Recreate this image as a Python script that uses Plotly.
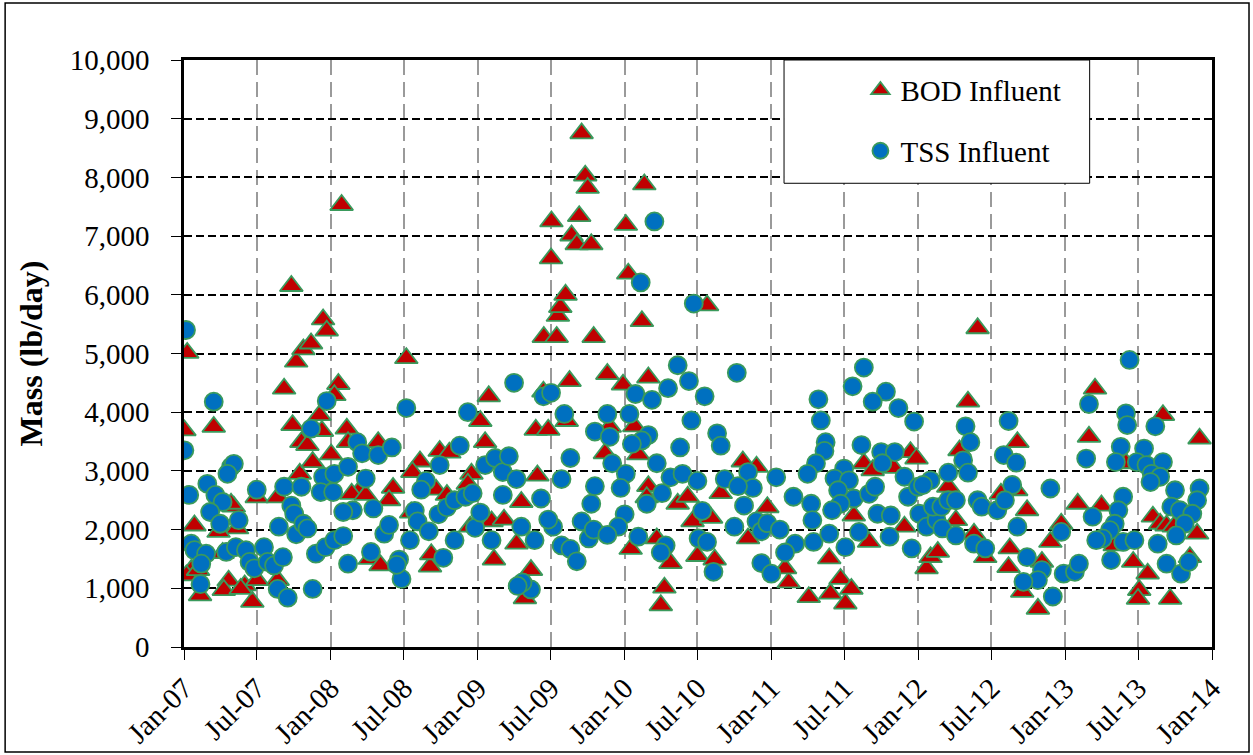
import plotly.graph_objects as go

# ---------------- data ----------------
tss_dates = [
    "2007-01-06","2007-01-02","2007-03-16","2007-01-14","2007-01-19","2007-01-27","2007-02-25","2007-02-13",
    "2007-02-11","2007-02-28","2007-03-20","2007-04-07","2007-03-07","2007-04-01","2007-05-17","2007-04-28",
    "2007-05-05","2007-04-19","2007-04-16","2007-05-10","2007-06-04","2007-06-13","2007-06-25","2007-07-01",
    "2007-07-19","2007-07-28","2007-08-13","2007-09-04","2007-08-22","2007-09-16","2007-08-25","2007-09-07",
    "2007-09-25","2007-10-02","2007-10-07","2007-10-25","2007-11-04","2007-10-20","2007-11-13","2007-12-22",
    "2007-12-13","2008-01-10","2007-12-07","2008-01-07","2008-02-13","2008-03-07","2008-03-19","2008-04-28",
    "2008-03-28","2008-04-16","2008-02-25","2008-02-01","2007-11-25","2007-12-19","2008-01-10","2008-02-01",
    "2008-02-13","2007-11-17","2008-05-13","2008-04-10",
    "2008-06-01","2008-07-07","2008-12-07","2008-11-17","2009-04-01","2009-06-13","2009-07-02","2009-08-04",
    "2009-08-19","2009-07-28","2008-05-25","2008-08-25","2008-09-28","2008-08-13","2008-07-28","2008-08-04",
    "2008-07-16","2008-06-19","2008-06-25","2008-06-13","2008-09-01","2008-10-07","2008-09-25","2008-10-16",
    "2008-11-04","2008-12-01","2008-12-19","2008-11-04","2008-12-25","2009-01-07","2009-02-04","2009-01-19",
    "2009-02-13","2009-03-04","2009-03-19","2009-04-07","2009-03-04","2009-04-19","2009-05-22","2009-06-07",
    "2009-07-07","2009-06-25","2009-05-13","2009-04-22","2009-04-10","2009-07-28","2009-08-19","2009-09-04",
    "2009-09-16","2009-10-04","2009-10-10","2009-10-19","2009-10-19","2009-10-16",
    "2010-03-16","2010-02-10","2010-06-22","2010-05-13","2010-10-07","2010-06-10","2010-04-19","2010-07-19",
    "2010-01-28","2010-03-10","2010-06-16","2009-11-19","2010-01-13","2010-08-19","2010-08-28","2010-03-01",
    "2010-02-13","2010-01-19","2009-11-25","2010-05-19","2009-12-01","2010-03-22","2010-01-04","2009-12-22",
    "2010-04-04","2010-02-25","2010-04-25","2010-05-25","2010-07-01","2010-01-01","2009-12-16","2009-11-19",
    "2010-02-04","2010-04-13","2010-04-01","2010-07-13","2010-07-04","2010-07-25","2010-08-10","2010-09-07",
    "2010-11-04","2010-11-16","2010-10-10","2010-10-25","2010-10-01","2010-11-25","2010-12-07","2010-12-22",
    "2011-01-22","2010-12-07","2011-01-01","2011-01-13","2011-02-25","2011-03-01","2011-02-04",
    "2011-08-19","2011-07-22","2011-10-13","2011-09-10","2011-11-13","2011-04-28","2011-05-04","2011-12-22",
    "2011-05-16","2011-05-13","2011-04-22","2011-04-01","2011-08-13","2011-10-01","2011-11-04","2011-10-04",
    "2011-07-01","2011-06-07","2011-07-13","2011-06-16","2011-07-25","2011-06-22","2011-06-01","2011-09-01",
    "2011-09-16","2011-11-28","2011-12-07","2012-01-01","2012-02-01","2012-01-13","2011-09-22","2011-10-25",
    "2011-04-10","2011-04-13","2011-04-16","2011-05-25","2011-07-04","2011-08-07","2011-10-22","2011-12-16",
    "2012-01-04","2012-01-22","2012-02-16","2012-02-07","2012-03-01","2012-03-16","2012-04-22","2012-05-04",
    "2012-04-28","2012-05-10","2012-02-28","2012-03-16","2012-04-04","2012-04-04","2012-05-19","2012-06-16",
    "2012-05-28","2012-06-07","2012-07-16",
    "2013-06-10","2013-03-01","2013-06-01","2013-06-04","2013-08-13","2012-08-13","2012-08-01","2012-09-01",
    "2013-02-22","2013-05-19","2013-05-07","2013-07-16","2013-06-28","2013-07-22","2013-09-01","2013-08-04",
    "2013-08-25","2013-08-01","2013-10-01","2012-11-25","2012-08-22","2012-08-04","2013-05-25","2013-05-13",
    "2013-05-04","2013-12-01","2013-11-25","2013-09-22","2013-10-13","2013-11-13","2013-10-25","2013-03-10",
    "2013-04-22","2013-04-04","2013-03-19","2013-05-25","2013-06-22","2013-08-19","2013-10-04","2012-12-22",
    "2012-09-04","2013-04-25","2013-09-10","2013-10-16","2013-11-04","2012-09-28","2012-11-04","2012-10-25",
    "2012-09-19","2012-12-01","2012-12-28","2013-01-25","2013-02-04",
]
tss_values = [
    5400,3350,4180,2590,1760,1650,1590,1420,1070,2780,2590,2470,2300,2100,2160,3070,
    3120,2950,1620,1700,1650,1450,1340,2680,1700,1450,1390,1530,990,840,2050,2730,
    2410,2270,1920,2100,2020,2730,3720,4190,2900,2950,2640,2640,3070,3490,3300,3270,
    2870,2360,2330,2300,1590,1700,1820,1890,1420,990,1930,1620,
    3400,4070,4000,3430,4500,4270,4330,3970,3220,2860,2080,2830,3100,2680,2320,2140,
    1820,1490,1160,1400,1970,1520,2260,2380,2500,2560,2620,1820,2030,2290,1820,3100,
    3220,2980,3250,2860,2590,2050,1820,2530,2050,2170,980,1100,1040,1730,1670,1460,
    2140,1850,2440,2740,3670,2000,
    7250,6210,5850,4800,4670,4530,4410,4270,4310,4210,3860,3970,3970,3640,3430,3610,
    3520,3460,3580,3400,3130,3130,2950,2710,2620,2440,2890,2950,2830,2260,2050,1910,
    1880,1730,1610,2320,1850,1790,1280,2860,2980,2710,2740,2410,2050,2140,1970,2110,
    2000,1430,1250,2890,2560,1760,1610,
    4760,4440,4350,4180,4070,4220,3860,3840,3490,3340,3130,2950,3440,3320,3320,3130,
    3040,2870,2840,2670,2530,2440,2330,2610,2730,2900,2560,2730,2840,2760,2270,2240,
    2440,2160,1790,1930,1700,1960,1880,1680,2270,2050,2160,2390,2020,2970,3180,2970,
    3760,3490,2390,2500,2500,1900,1760,1680,2500,2390,2330,
    4890,4140,3980,3780,3760,3850,3270,3140,3210,3410,3150,3380,3150,3100,3150,2950,
    2900,2810,2670,2700,2760,2500,2560,2330,2100,2700,2500,2390,2330,2270,2100,2220,
    1990,1850,1820,1790,1820,1760,1900,1960,2050,1480,1420,1250,1450,1530,1310,1140,
    1110,860,1250,1280,1420,
]

bod_dates = [
    "2007-01-09","2007-01-02","2007-03-16","2007-01-27","2007-02-10","2007-01-19","2007-01-07","2007-05-05",
    "2007-05-13","2007-03-28","2007-04-22","2007-04-10","2007-06-01","2007-06-20","2007-07-02","2007-05-22",
    "2007-07-01","2007-08-22","2007-08-22","2007-09-07","2007-09-28","2007-10-07","2007-10-25","2007-11-13",
    "2007-09-25","2007-10-16","2007-11-17","2007-10-20","2007-11-04","2007-12-04","2007-12-13","2007-12-22",
    "2007-12-10","2008-01-20","2008-01-10","2008-01-02","2008-02-10","2008-02-13","2008-04-28","2008-03-13",
    "2008-02-22","2008-04-07","2008-05-04","2007-04-28","2007-02-05","2007-04-07","2008-01-28",
    "2008-07-07","2008-06-04","2008-05-25","2008-08-10","2008-09-28","2008-10-22","2008-09-04","2008-09-07",
    "2008-07-19","2008-09-19","2008-10-16","2009-01-28","2009-01-07","2009-01-19","2008-12-16","2009-02-04",
    "2009-03-07","2009-04-07","2009-02-10","2009-04-19","2009-05-29","2009-05-13","2009-04-28","2009-05-25",
    "2009-06-25","2009-06-13","2009-08-17","2009-08-10","2009-07-02","2009-07-03","2009-06-14","2009-07-16",
    "2009-07-19","2009-07-25","2009-08-07","2009-09-16","2009-09-25","2009-10-01","2009-09-10","2009-08-22",
    "2009-09-04","2009-10-10","2009-10-16",
    "2010-02-19","2010-01-04","2010-01-10","2010-02-13","2010-07-25","2009-11-19","2009-12-28","2010-03-01",
    "2010-01-25","2010-02-04","2010-10-22","2010-11-25","2010-12-22","2010-03-01","2010-05-13","2010-06-07",
    "2010-08-28","2010-01-16","2010-03-22","2010-04-25","2010-04-10","2010-04-01","2010-07-01","2010-08-13",
    "2010-06-19","2011-02-13","2010-11-04","2009-11-13","2009-11-25","2010-08-04","2011-02-04",
    "2012-05-28","2012-05-04","2011-12-13","2011-12-28","2011-08-19","2011-09-10","2011-11-01","2012-04-13",
    "2012-03-16","2011-04-04","2011-05-25","2011-06-22","2011-05-28","2011-07-04","2011-07-19","2011-07-25",
    "2011-09-01","2011-11-28","2012-01-22","2012-02-01","2012-02-19","2012-04-04","2012-05-19","2012-06-16",
    "2012-07-25",
    "2013-03-16","2013-03-01","2013-09-01","2013-12-01","2012-09-04","2013-06-01","2013-02-01","2013-04-01",
    "2012-09-28","2012-12-22","2012-11-25","2012-08-16","2012-08-13","2013-08-07","2013-08-25","2013-09-10",
    "2013-09-28","2013-11-25","2013-06-19","2013-07-25","2013-07-04","2013-07-01","2013-09-19","2012-10-25",
    "2012-09-16","2013-05-04","2013-11-07","2012-11-04","2012-09-01",
    "2008-07-22","2008-12-13","2008-12-07","2010-02-25","2008-03-28",
]
bod_values = [
    5010,3690,3750,2070,880,1310,1220,2390,2020,1960,1130,970,1050,770,1140,990,
    2550,2550,1140,4400,3780,4860,5070,5170,6150,2950,3150,3490,3440,3950,5580,5390,
    3680,4480,4290,3280,3720,3490,3490,2670,2610,1500,1390,2440,1310,1600,7530,
    4920,2710,2500,3160,3340,3310,1370,1580,2290,2680,2590,4270,3850,3490,2950,2140,
    2170,1760,1490,2470,2920,1310,830,3700,3700,4350,4530,3850,6620,7250,5280,5280,
    5640,5790,6000,8750,8030,7820,7340,7010,6860,6860,5280,
    7880,7190,6360,5550,5820,4650,4470,4590,3760,3280,3160,3070,2380,2740,2440,2560,
    2620,1670,1850,1430,1010,710,1550,1490,2140,1100,1850,3300,3750,2200,1340,
    5430,4180,3320,3210,3130,3010,3050,3350,2730,850,1510,1160,910,740,990,2240,
    1790,2050,1340,1530,1620,2160,1930,1530,2610,
    4400,3580,3950,3550,3490,3130,2440,2410,2330,2100,1790,1680,1360,2220,2100,2070,
    2050,1930,1450,1250,970,820,820,650,940,1730,1530,1450,2670,
    2980,2050,2780,2550,2590,
]

tick_dates = ["2007-01-01","2007-07-01","2008-01-01","2008-07-01","2009-01-01","2009-07-01",
              "2010-01-01","2010-07-01","2011-01-01","2011-07-01","2012-01-01","2012-07-01",
              "2013-01-01","2013-07-01","2014-01-01"]
tick_labels = ["Jan-07","Jul-07","Jan-08","Jul-08","Jan-09","Jul-09","Jan-10","Jul-10",
               "Jan-11","Jul-11","Jan-12","Jul-12","Jan-13","Jul-13","Jan-14"]

FONT = "Liberation Serif"
EDGE = "#3a9a5c"
tf = dict(family=FONT, size=29, color="black")

fig = go.Figure()
fig.add_trace(go.Scatter(
    x=bod_dates, y=bod_values, mode="markers", name="BOD Influent", legendgroup="a",
    marker=dict(symbol="triangle-up", size=20, color="#c00000", line=dict(color=EDGE, width=1.8)),
))
fig.add_trace(go.Scatter(
    x=tss_dates, y=tss_values, mode="markers", name="TSS Influent", legendgroup="b",
    marker=dict(symbol="circle", size=18, color="#0070c0", line=dict(color=EDGE, width=1.8)),
))

fig.update_layout(
    template="none",
    width=1253, height=755,
    margin=dict(l=184, r=41, t=60, b=108),
    paper_bgcolor="white", plot_bgcolor="white",
    font=tf,
    showlegend=True,
    legend=dict(x=0.658, y=0.992, xanchor="left", yanchor="top",
                bgcolor="rgba(0,0,0,0)", borderwidth=0, traceorder="grouped",
                tracegroupgap=20, font=tf),
    shapes=[
        dict(type="rect", xref="paper", yref="paper", x0=0.5837, x1=0.881, y0=0.790, y1=1.0,
             fillcolor="white", line=dict(color="black", width=1), layer="above"),
        dict(type="rect", xref="paper", yref="paper", x0=-0.174, x1=1.036, y0=-0.179, y1=1.097,
             fillcolor="rgba(0,0,0,0)", line=dict(color="black", width=1.5), layer="below"),
    ],
)

fig.update_xaxes(
    type="date", range=["2007-01-01", "2014-01-01"],
    tickmode="array", tickvals=tick_dates, ticktext=tick_labels, tickangle=-45,
    tickfont=tf,
    showgrid=True, gridcolor="#9a9a9a", gridwidth=2, griddash="15px,7px",
    ticks="outside", ticklen=10, tickcolor="black", tickwidth=1,
    showline=True, linecolor="black", linewidth=2.5, mirror=True, zeroline=False,
)
fig.update_yaxes(
    range=[0, 10000], tickmode="linear", tick0=0, dtick=1000, tickformat=",d",
    tickfont=tf,
    showgrid=True, gridcolor="black", gridwidth=2, griddash="8px,4px",
    ticks="outside", ticklen=10, tickcolor="black", tickwidth=1,
    showline=True, linecolor="black", linewidth=2.5, mirror=True, zeroline=False,
    ticklabelstandoff=16,
    title=dict(text="<b>Mass (lb/day)</b>", font=dict(family=FONT, size=32, color="black"), standoff=18),
)

fig.write_html("out.html")
